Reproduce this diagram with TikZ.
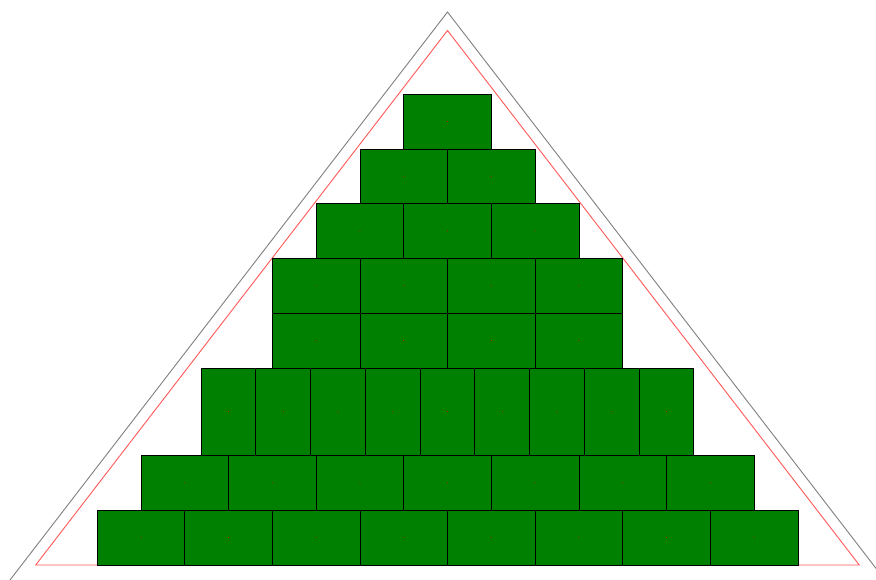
\documentclass[tikz,border=0pt]{standalone}
\definecolor{webgreen}{RGB}{0,128,0}
\tikzset{
  brick/.style={rectangle, draw=black, fill=webgreen, line width=0.8pt, inner sep=0pt, outer sep=0pt},
  outertri/.style={draw=gray, line width=0.9pt},
  innertri/.style={draw=red!65, line width=0.9pt},
  centerdot/.style={fill=red!80!black}
}
\begin{document}
\begin{tikzpicture}[x=1pt,y=-1pt]
\useasboundingbox (0,0) rectangle (876,579);
\clip (0,0) rectangle (876,579);
\fill[white] (0,0) rectangle (876,579);
% outer gray triangle
\draw[outertri] (-5.4,600) -- (447.5,12) -- (900.4,600);
% inner red triangle
\draw[innertri] (447.5,30.5) -- (35.7,565) -- (859.3,565) -- cycle;
% bricks
\foreach \r/\n/\w/\h/\t in {1/1/87.6/54.75/94.15, 2/2/87.6/54.75/148.9, 3/3/87.6/54.75/203.65, 4/4/87.6/54.75/258.4, 5/4/87.6/54.75/313.15, 6/9/54.75/87.6/367.9, 7/7/87.6/54.75/455.5, 8/8/87.6/54.75/510.25} {
  \foreach \i in {1,...,\n} {
    \pgfmathsetmacro\cx{447.5 - \n*\w/2 + (\i-0.5)*\w}
    \pgfmathsetmacro\cy{\t+\h/2}
    \node[brick, minimum width=\w pt, minimum height=\h pt] (b\r-\i) at (\cx,\cy) {};
    \fill[centerdot] (b\r-\i.center) circle (0.5pt);
  }
}
\end{tikzpicture}
\end{document}
